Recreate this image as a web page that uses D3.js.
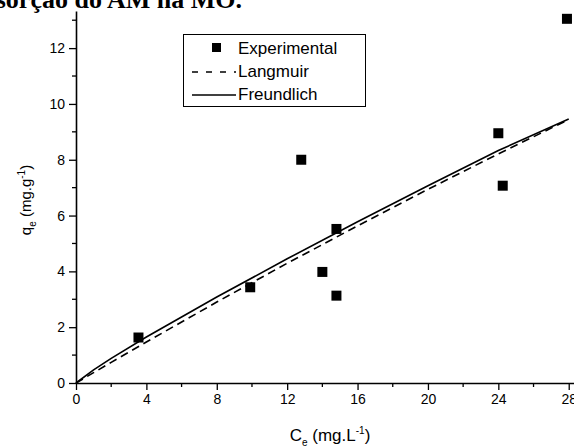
<!DOCTYPE html>
<html>
<head>
<meta charset="utf-8">
<script src="https://cdn.jsdelivr.net/npm/d3@7"></script>
<style>
  body { margin: 0; background: #fff; }
  svg { display: block; }
  text { font-family: "Liberation Sans", Arial, sans-serif; fill: #000; }
</style>
</head>
<body>
<div id="chart"></div>
<script>
// experimental points (Ce, qe)
var expC = [3.55, 9.9, 12.8, 14.0, 14.8, 14.8, 24.0, 24.25, 27.9]
var expQ = [1.63, 3.43, 8.0, 3.98, 3.13, 5.52, 8.95, 7.07, 13.05]

// fitted curves
var curveC = [0, 1, 2, 4, 8, 12, 16, 20, 24, 28]
var langmuirQ = [0, 0.37, 0.74, 1.47, 2.90, 4.29, 5.63, 6.94, 8.21, 9.44]
var freundQ = [0, 0.47, 0.88, 1.65, 3.08, 4.45, 5.78, 7.07, 8.33, 9.46]

var xTicks = [0, 4, 8, 12, 16, 20, 24, 28]
var yTicks = [0, 2, 4, 6, 8, 10, 12]

var width = 574
var height = 448

var svg = d3.select('#chart').append('svg')
  .attr('width', width)
  .attr('height', height)

var x = d3.scaleLinear().domain([0, 28.3]).range([76, 574])
var y = d3.scaleLinear().domain([0, 13.33]).range([383, 11])

// title, cropped at the top
svg.append('text')
  .attr('x', 242)
  .attr('y', 8)
  .attr('text-anchor', 'end')
  .style('font-family', '"Liberation Serif", "Times New Roman", serif')
  .style('font-weight', 'bold')
  .style('font-size', '26px')
  .text('Adsorção do AM na MO.')

// minor ticks
var g = svg.append('g')
g.selectAll('line.xminor')
  .data(d3.range(2, 29, 4))
  .enter().append('line')
  .attr('x1', function (d) { return x(d) })
  .attr('x2', function (d) { return x(d) })
  .attr('y1', 383).attr('y2', 387)
  .attr('stroke', '#000').attr('stroke-width', 1.3)
g.selectAll('line.yminor')
  .data(d3.range(1, 14, 2))
  .enter().append('line')
  .attr('y1', function (d) { return y(d) })
  .attr('y2', function (d) { return y(d) })
  .attr('x1', 76).attr('x2', 72)
  .attr('stroke', '#000').attr('stroke-width', 1.3)

var xAxis = svg.append('g')
  .attr('transform', 'translate(0,383)')
  .call(d3.axisBottom(x).tickValues(xTicks).tickSize(7).tickPadding(4).tickSizeOuter(0))
var yAxis = svg.append('g')
  .attr('transform', 'translate(76,0)')
  .call(d3.axisLeft(y).tickValues(yTicks).tickSize(7).tickPadding(4).tickSizeOuter(0))

;[xAxis, yAxis].forEach(function (a) {
  a.selectAll('path').attr('stroke-width', 1.6)
  a.selectAll('line').attr('stroke-width', 1.3)
  a.selectAll('text').style('font-size', '14px').style('font-family', '"Liberation Sans", Arial, sans-serif')
})

// curves
var line = d3.line()
  .x(function (d) { return x(d[0]) })
  .y(function (d) { return y(d[1]) })

svg.append('path')
  .datum(d3.zip(curveC, langmuirQ))
  .attr('d', line)
  .attr('fill', 'none')
  .attr('stroke', '#000')
  .attr('stroke-width', 1.6)
  .attr('stroke-dasharray', '8,5')

svg.append('path')
  .datum(d3.zip(curveC, freundQ))
  .attr('d', line)
  .attr('fill', 'none')
  .attr('stroke', '#000')
  .attr('stroke-width', 1.6)

// experimental squares
svg.selectAll('rect.pt')
  .data(d3.zip(expC, expQ))
  .enter().append('rect')
  .attr('class', 'pt')
  .attr('x', function (d) { return x(d[0]) - 5 })
  .attr('y', function (d) { return y(d[1]) - 5 })
  .attr('width', 10)
  .attr('height', 10)
  .attr('fill', '#000')

// legend
var lg = svg.append('g')
lg.append('rect')
  .attr('x', 183.5).attr('y', 34.5)
  .attr('width', 182).attr('height', 72)
  .attr('fill', '#fff').attr('stroke', '#000').attr('stroke-width', 1)
lg.append('rect')
  .attr('x', 212).attr('y', 43).attr('width', 9).attr('height', 9).attr('fill', '#000')
lg.append('line')
  .attr('x1', 192).attr('x2', 236).attr('y1', 72).attr('y2', 72)
  .attr('stroke', '#000').attr('stroke-width', 1.6).attr('stroke-dasharray', '6,8')
lg.append('line')
  .attr('x1', 192).attr('x2', 236).attr('y1', 95).attr('y2', 95)
  .attr('stroke', '#000').attr('stroke-width', 1.6)
var labels = ['Experimental', 'Langmuir', 'Freundlich']
lg.selectAll('text.lab')
  .data(labels)
  .enter().append('text')
  .attr('x', 238)
  .attr('y', function (d, i) { return 54 + i * 23 })
  .style('font-size', '17px')
  .text(function (d) { return d })

// axis titles
var xt = svg.append('text')
  .attr('x', 330)
  .attr('y', 441)
  .attr('text-anchor', 'middle')
  .style('font-size', '17px')
xt.append('tspan').text('C')
xt.append('tspan').attr('dy', 5).style('font-size', '10px').text('e')
xt.append('tspan').attr('dy', -5).text(' (mg.L')
xt.append('tspan').attr('dy', -7).style('font-size', '10px').text('-1')
xt.append('tspan').attr('dy', 7).text(')')

var yt = svg.append('text')
  .attr('transform', 'translate(31,200) rotate(-90)')
  .attr('text-anchor', 'middle')
  .style('font-size', '15px')
yt.append('tspan').text('q')
yt.append('tspan').attr('dy', 5).style('font-size', '10px').text('e')
yt.append('tspan').attr('dy', -5).text(' (mg.g')
yt.append('tspan').attr('dy', -6).style('font-size', '10px').text('-1')
yt.append('tspan').attr('dy', 6).text(')')
</script>
</body>
</html>
